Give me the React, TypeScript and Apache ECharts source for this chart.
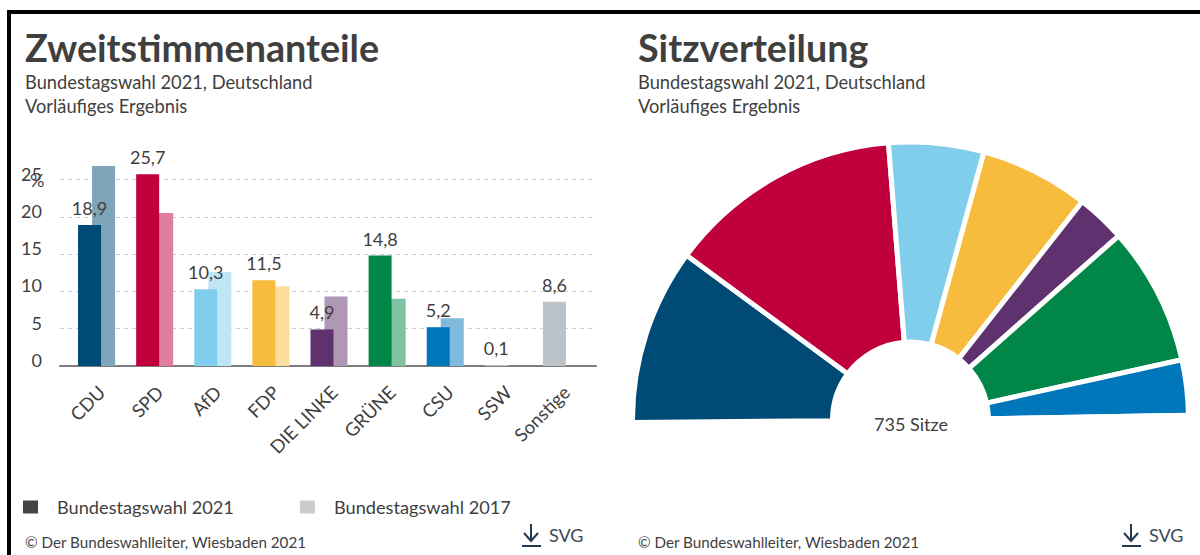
import React, { useEffect, useRef } from "react";
import * as echarts from "echarts";

const parties = ["CDU", "SPD", "AfD", "FDP", "DIE LINKE", "GRÜNE", "CSU", "SSW", "Sonstige"];
const votes2021 = [18.9, 25.7, 10.3, 11.5, 4.9, 14.8, 5.2, 0.1, 8.6];
const votes2017 = [26.8, 20.5, 12.6, 10.7, 9.3, 9.0, 6.4, null, null];
const colors2021 = ["#004B76", "#C0003C", "#80CDEC", "#F7BB3D", "#5F316E", "#008748", "#0076BB", "#D8DCDF", "#BBC3C8"];
const colors2017 = ["#7FA5BA", "#DF7F9D", "#BFE6F5", "#FBDD9E", "#AF98B6", "#7FC3A3", "#7FBADD", "#E8EAEC", "#DDE1E3"];
const yTicks = [0, 5, 10, 15, 20, 25];
const seatParties = ["CDU", "SPD", "AfD", "FDP", "DIE LINKE", "GRÜNE", "CSU", "SSW"];
const seats = [150, 200, 81, 93, 42, 118, 47, 4];
const seatColors = ["#004B76", "#C0003C", "#80CDEC", "#F7BB3D", "#5F316E", "#008748", "#0076BB", "#F4F5F6"];

const FONT = "Lato";
const TEXT = "#3f3f3f";

const title = (text: string, left: number, top: number, fontSize: number, fontWeight: string) => ({
  text, left, top, padding: 0,
  textStyle: { fontFamily: FONT, fontSize, fontWeight, color: TEXT, lineHeight: Math.round(fontSize) + 4 },
});

const svgIcon = (x: number) => [
  { type: "line", shape: { x1: x + 9, y1: 524, x2: x + 9, y2: 541 }, style: { stroke: "#1f3a52", lineWidth: 2 } },
  { type: "polyline", shape: { points: [[x + 2, 533], [x + 9, 541], [x + 16, 533]] }, style: { stroke: "#1f3a52", lineWidth: 2, fill: "none" } },
  { type: "line", shape: { x1: x, y1: 546, x2: x + 19, y2: 546 }, style: { stroke: "#1f3a52", lineWidth: 2 } },
  { type: "text", x: x + 27, y: 535, style: { text: "SVG", fontFamily: FONT, fontSize: 18, fill: "#3a4a58", verticalAlign: "middle" } },
];

export default function App() {
  const ref = useRef<HTMLDivElement>(null);
  useEffect(() => {
    document.body.style.margin = "0";
    const chart = echarts.init(ref.current!, null, { renderer: "svg" });
    chart.setOption({
      animation: false,
      backgroundColor: "#fff",
      title: [
        title("Zweitstimmenanteile", 25, 26, 37.7, "bold"),
        title("Bundestagswahl 2021, Deutschland", 25, 71, 18.3, "normal"),
        title("Vorläufiges Ergebnis", 25, 95, 18.3, "normal"),
        title("Sitzverteilung", 638, 26, 37.7, "bold"),
        title("Bundestagswahl 2021, Deutschland", 638, 71, 18.3, "normal"),
        title("Vorläufiges Ergebnis", 638, 95, 18.3, "normal"),
        title("© Der Bundeswahlleiter, Wiesbaden 2021", 25, 532, 15.2, "normal"),
        title("© Der Bundeswahlleiter, Wiesbaden 2021", 638, 532, 15.2, "normal"),
      ],
      grid: [
        { left: 60, width: 536, top: 179.5, height: 186.5 },
        { left: 67.5, width: 523, top: 179.5, height: 186.5 },
        { left: 72.5, width: 523, top: 179.5, height: 186.5 },
      ],
      xAxis: [
        {
          gridIndex: 0, type: "category", data: [""],
          axisTick: { show: false }, axisLabel: { show: false },
          axisLine: { lineStyle: { color: "#7d7d7d", width: 2 } },
        },
        {
          gridIndex: 1, type: "category", data: parties,
          axisTick: { show: false }, axisLine: { show: false }, axisLabel: { show: false },
        },
        {
          gridIndex: 2, type: "category", data: parties,
          axisTick: { show: false }, axisLine: { show: false },
          axisLabel: { interval: 0, rotate: 45, margin: 23, fontFamily: FONT, fontSize: 18.5, color: TEXT },
        },
      ],
      yAxis: [
        {
          gridIndex: 0, type: "value", min: 0, max: 25, interval: 5,
          axisLine: { show: false }, axisTick: { show: false },
          axisLabel: {
            margin: 18, fontFamily: FONT, fontSize: 18, color: TEXT, verticalAlign: "bottom", lineHeight: 12,
            formatter: (v: number) => (yTicks.includes(v) ? String(v) : ""),
          },
          splitLine: { lineStyle: { color: "#cfcfcf", type: [4, 4], width: 1 } },
        },
        { gridIndex: 1, type: "value", min: 0, max: 25, interval: 5, show: false, splitLine: { show: false } },
        { gridIndex: 2, type: "value", min: 0, max: 25, interval: 5, show: false, splitLine: { show: false } },
      ],
      legend: {
        left: 23, top: 498, itemWidth: 15, itemHeight: 13, itemGap: 66, padding: 0,
        icon: "rect",
        data: [
          { name: "Bundestagswahl 2021", itemStyle: { color: "#444444" } },
          { name: "Bundestagswahl 2017", itemStyle: { color: "#CCCCCC" } },
        ],
        textStyle: { fontFamily: FONT, fontSize: 18.2, color: TEXT, padding: [0, 0, 0, 14] },
      },
      series: [
        {
          name: "Bundestagswahl 2021", type: "bar", xAxisIndex: 1, yAxisIndex: 1,
          barWidth: 23, barGap: "-39%", clip: false, z: 4,
          itemStyle: { color: "#444444" },
          data: votes2021.map((value, i) => ({ value, itemStyle: { color: colors2021[i] } })),
          label: {
            show: true, position: "top", distance: 8, fontFamily: FONT, fontSize: 18, color: TEXT,
            formatter: (p: any) => Number(p.value).toFixed(1).replace(".", ","),
          },
        },
        {
          name: "Bundestagswahl 2017", type: "bar", xAxisIndex: 1, yAxisIndex: 1,
          barWidth: 23, clip: false, z: 3,
          itemStyle: { color: "#CCCCCC" },
          data: votes2017.map((value, i) => ({ value, itemStyle: { color: colors2017[i] } })),
        },
        {
          name: "Sitzverteilung", type: "pie", center: [910.5, 420], radius: [78, 278],
          startAngle: 180.5, endAngle: 0, silent: true,
          label: { show: false }, labelLine: { show: false },
          itemStyle: { borderColor: "#fff", borderWidth: 5 },
          data: seats.map((value, i) => ({ name: seatParties[i], value, itemStyle: { color: seatColors[i] } })),
        },
      ],
      graphic: [
        { type: "rect", silent: true, shape: { x: 9, y: 12, width: 1300, height: 700 }, style: { fill: "none", stroke: "#000", lineWidth: 4 } },
        { type: "text", x: 30, y: 180, style: { text: "%", fontFamily: FONT, fontSize: 18, fill: TEXT, verticalAlign: "middle" } },
        { type: "text", x: 911, y: 424, style: { text: "735 Sitze", fontFamily: FONT, fontSize: 18, fill: TEXT, align: "center", verticalAlign: "middle" } },
        ...svgIcon(522),
        ...svgIcon(1122),
      ],
    });
    return () => chart.dispose();
  }, []);
  return <div ref={ref} style={{ width: 1200, height: 555 }} />;
}
